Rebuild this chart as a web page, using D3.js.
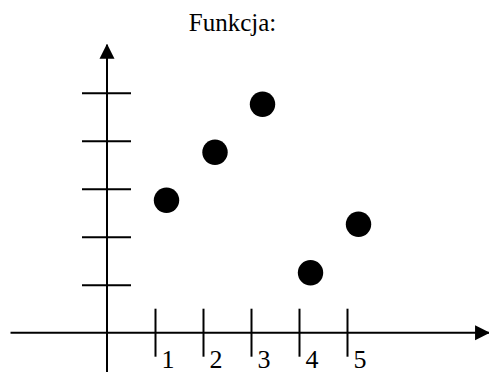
<!DOCTYPE html>
<html>
<head>
<meta charset="utf-8">
<script src="https://cdn.jsdelivr.net/npm/d3@7"></script>
<style>
  html, body { margin: 0; padding: 0; background: #fff; }
  svg { display: block; }
  text { font-family: 'Liberation Serif', 'Times New Roman', serif; fill: #000; }
</style>
</head>
<body>
<div id="main-content"></div>
<script>
'use strict'

const title = 'Funkcja:'
const xTicks = [1, 2, 3, 4, 5]
const yTicks = [1, 2, 3, 4, 5]
const xLabels = ['1', '2', '3', '4', '5']
const pointX = [1.24, 2.25, 3.24, 4.24, 5.24]
const pointY = [2.76, 3.76, 4.76, 1.25, 2.26]

const width = 489,
		height = 372

const svg = d3.select('#main-content').append('svg')
	.attr('width', width)
	.attr('height', height)

// 48px per unit, origin at (107, 332.7)
const x = d3.scaleLinear().domain([0, 5]).range([107, 347])
const y = d3.scaleLinear().domain([0, 5]).range([332.7, 92.7])

// arrow heads
const defs = svg.append('defs')
defs.append('marker')
	.attr('id', 'arrow')
	.attr('viewBox', '0 -8 15 16')
	.attr('refX', 14)
	.attr('refY', 0)
	.attr('markerUnits', 'userSpaceOnUse')
	.attr('markerWidth', 15)
	.attr('markerHeight', 16)
	.attr('orient', 'auto')
	.append('path')
		.attr('d', 'M0,-7.5L15,0L0,7.5Z')
		.style('fill', '#000')

// main axis lines
svg.append('line')
	.attr('x1', x(-2.01)).attr('x2', x(7.96))
	.attr('y1', y(0)).attr('y2', y(0))
	.attr('stroke', '#000').attr('stroke-width', 2)
	.attr('marker-end', 'url(#arrow)')

svg.append('line')
	.attr('x1', x(0)).attr('x2', x(0))
	.attr('y1', y(-0.82)).attr('y2', y(6.0))
	.attr('stroke', '#000').attr('stroke-width', 2)
	.attr('marker-end', 'url(#arrow)')

// x ticks crossing the axis
const xAxis = svg.append('g')
	.attr('transform', `translate(0,${y(0)})`)
	.call(d3.axisBottom(x).tickValues(xTicks).tickSize(24).tickFormat((d, i) => xLabels[i]))
xAxis.select('.domain').remove()
xAxis.selectAll('.tick line')
	.attr('y1', -24).attr('y2', 24)
	.attr('stroke', '#000').attr('stroke-width', 2)
xAxis.selectAll('.tick text')
	.attr('x', 6)
	.attr('y', 35.5)
	.attr('dy', null)
	.attr('text-anchor', 'start')
	.attr('font-size', 26)
	.attr('font-family', "'Liberation Serif', 'Times New Roman', serif")
	.attr('fill', '#000')

// y ticks crossing the axis
const yAxis = svg.append('g')
	.attr('transform', `translate(${x(0)},0)`)
	.call(d3.axisLeft(y).tickValues(yTicks).tickSize(25).tickFormat(''))
yAxis.select('.domain').remove()
yAxis.selectAll('.tick line')
	.attr('x1', -25).attr('x2', 24)
	.attr('stroke', '#000').attr('stroke-width', 2)

// points
svg.append('g')
	.selectAll('circle')
	.data(pointX.map((v, i) => ({ x: v, y: pointY[i] })))
	.enter().append('circle')
		.attr('cx', d => x(d.x))
		.attr('cy', d => y(d.y))
		.attr('r', 12.7)
		.attr('fill', '#000')

svg.append('text')
	.attr('x', 232.5)
	.attr('y', 31)
	.attr('text-anchor', 'middle')
	.attr('font-size', 25)
	.text(title)
</script>
</body>
</html>
